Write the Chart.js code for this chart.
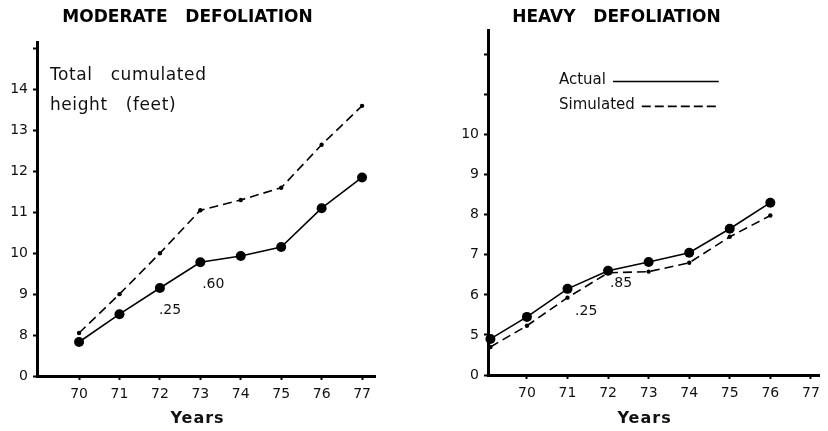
<!DOCTYPE html>
<html>
<head>
<meta charset="utf-8">
<title>Defoliation height</title>
<script src="https://cdn.jsdelivr.net/npm/chart.js@4.4.1/dist/chart.umd.min.js"></script>
<style>
  body { margin: 0; background: #fff; }
  #wrap { position: relative; width: 828px; height: 431px; }
  canvas { position: absolute; top: 0; }
  #moderate { left: 0; }
  #heavy { left: 414px; }
</style>
</head>
<body>
<div id="wrap">
  <canvas id="moderate" width="414" height="431"></canvas>
  <canvas id="heavy" width="414" height="431"></canvas>
</div>
<script>
// moderate defoliation, total cumulated height in feet
var moderateYears = [70, 71, 72, 73, 74, 75, 76, 77];
var moderateActual = [7.83, 8.51, 9.15, 9.78, 9.93, 10.15, 11.1, 11.85];
var moderateSimulated = [8.05, 9.0, 10.0, 11.05, 11.3, 11.6, 12.65, 13.6];

// heavy defoliation
var heavyYears = [69.1, 70, 71, 72, 73, 74, 75, 76];
var heavyActual = [4.9, 5.45, 6.15, 6.6, 6.82, 7.05, 7.65, 8.3];
var heavySimulated = [4.7, 5.23, 5.93, 6.55, 6.58, 6.8, 7.45, 7.98];

// axes are broken: the lowest tick sits where "0" is printed
var yearTicks = [70, 71, 72, 73, 74, 75, 76, 77];
var moderateYTicks = [7, 8, 9, 10, 11, 12, 13, 14, 15];
var moderateYLabels = ["0", "8", "9", "10", "11", "12", "13", "14", ""];
var heavyYTicks = [4, 5, 6, 7, 8, 9, 10, 11, 12];
var heavyYLabels = ["0", "5", "6", "7", "8", "9", "10", "", ""];

Chart.defaults.font.family = "'DejaVu Sans', sans-serif";
Chart.defaults.color = "#111";

function xy(xs, ys) {
  return xs.map(function (x, i) { return { x: x, y: ys[i] }; });
}

function actualSet(xs, ys) {
  return {
    label: "Actual",
    data: xy(xs, ys),
    borderColor: "#000",
    borderWidth: 1.6,
    pointRadius: 5,
    pointBackgroundColor: "#000",
    pointBorderWidth: 0,
    tension: 0,
    clip: false
  };
}

function simulatedSet(xs, ys) {
  return {
    label: "Simulated",
    data: xy(xs, ys),
    borderColor: "#000",
    borderWidth: 1.6,
    borderDash: [9, 5],
    pointRadius: 2.2,
    pointBackgroundColor: "#000",
    pointBorderWidth: 0,
    tension: 0,
    clip: false
  };
}

function xScale(min, max, height) {
  return {
    type: "linear",
    min: min,
    max: max,
    afterBuildTicks: function (scale) {
      scale.ticks = yearTicks.map(function (v) { return { value: v }; });
    },
    afterFit: function (scale) { scale.height = height; },
    grid: { drawOnChartArea: false, tickLength: 4, tickWidth: 2, color: "#000" },
    border: { color: "#000", width: 3 },
    ticks: {
      color: "#111",
      padding: 6,
      font: { size: 14 },
      callback: function (v) { return String(v); }
    },
    title: { display: false }
  };
}

function yScale(min, max, ticks, labels, width) {
  return {
    type: "linear",
    min: min,
    max: max,
    afterBuildTicks: function (scale) {
      scale.ticks = ticks.map(function (v) { return { value: v }; });
    },
    afterFit: function (scale) { scale.width = width; },
    grid: { drawOnChartArea: false, tickLength: 4, tickWidth: 2, color: "#000" },
    border: { color: "#000", width: 3 },
    ticks: {
      color: "#111",
      padding: 5,
      font: { size: 14 },
      callback: function (v, i) { return labels[i]; }
    }
  };
}

// free text, axis caption and the hand-drawn key, placed in data units
var notesPlugin = {
  id: "notes",
  afterDatasetsDraw: function (chart, args, opts) {
    var ctx = chart.ctx;
    var sx = chart.scales.x, sy = chart.scales.y;
    ctx.save();
    ctx.fillStyle = "#111";
    ctx.textBaseline = "middle";
    (opts.items || []).forEach(function (n) {
      ctx.font = (n.bold ? "bold " : "") + (n.size || 14) + "px 'DejaVu Sans', sans-serif";
      ctx.letterSpacing = (n.spacing || 0) + "px";
      ctx.textAlign = n.align || "center";
      var py = n.py !== undefined ? n.py : sy.getPixelForValue(n.y);
      ctx.fillText(n.text, sx.getPixelForValue(n.x), py);
    });
    ctx.letterSpacing = "0px";
    (opts.keys || []).forEach(function (k) {
      ctx.font = "15px 'DejaVu Sans', sans-serif";
      ctx.textAlign = "left";
      var px = sx.getPixelForValue(k.x), py = sy.getPixelForValue(k.y);
      ctx.fillText(k.text, px, py);
      var start = px + ctx.measureText(k.text).width + 7;
      ctx.strokeStyle = "#000";
      ctx.lineWidth = 1.6;
      ctx.setLineDash(k.dash);
      ctx.beginPath();
      ctx.moveTo(start, py + 1);
      ctx.lineTo(sx.getPixelForValue(k.end), py + 1);
      ctx.stroke();
    });
    ctx.restore();
  }
};

new Chart(document.getElementById("moderate"), {
  type: "line",
  data: {
    datasets: [
      actualSet(moderateYears, moderateActual),
      simulatedSet(moderateYears, moderateSimulated)
    ]
  },
  options: {
    responsive: false,
    animation: false,
    layout: { padding: { left: 0, right: 39, top: 0, bottom: 0 } },
    scales: {
      x: xScale(68.96, 77.32, 55),
      y: yScale(7, 15.15, moderateYTicks, moderateYLabels, 37)
    },
    plugins: {
      legend: { display: false },
      tooltip: { enabled: false },
      title: {
        display: true,
        text: "MODERATE   DEFOLIATION",
        color: "#000",
        font: { size: 17, weight: "bold" },
        padding: { top: 7, bottom: 15 }
      },
      notes: {
        items: [
          { text: "Total   cumulated", x: 69.28, y: 14.34, align: "left", size: 17, spacing: 0.6 },
          { text: "height   (feet)", x: 69.28, y: 13.6, align: "left", size: 17, spacing: 0.6 },
          { text: ".25", x: 72.25, y: 8.6 },
          { text: ".60", x: 73.32, y: 9.25 },
          { text: "Years", x: 72.93, py: 419, size: 16, bold: true, spacing: 1 }
        ]
      }
    }
  },
  plugins: [notesPlugin]
});

new Chart(document.getElementById("heavy"), {
  type: "line",
  data: {
    datasets: [
      actualSet(heavyYears, heavyActual),
      simulatedSet(heavyYears, heavySimulated)
    ]
  },
  options: {
    responsive: false,
    animation: false,
    layout: { padding: { left: 0, right: 9, top: 0, bottom: 0 } },
    scales: {
      x: xScale(69.04, 77.2, 56),
      y: yScale(4, 12.6, heavyYTicks, heavyYLabels, 74)
    },
    plugins: {
      legend: { display: false },
      tooltip: { enabled: false },
      title: {
        display: true,
        text: "HEAVY   DEFOLIATION",
        color: "#000",
        font: { size: 17, weight: "bold" },
        padding: { top: 7, bottom: 3 }
      },
      notes: {
        items: [
          { text: ".25", x: 71.46, y: 5.6 },
          { text: ".85", x: 72.32, y: 6.28 },
          { text: "Years", x: 72.9, py: 419, size: 16, bold: true, spacing: 1 }
        ],
        keys: [
          { text: "Actual", x: 70.79, y: 11.35, end: 74.73, dash: [] },
          { text: "Simulated", x: 70.79, y: 10.73, end: 74.73, dash: [9, 4] }
        ]
      }
    }
  },
  plugins: [notesPlugin]
});
</script>
</body>
</html>
